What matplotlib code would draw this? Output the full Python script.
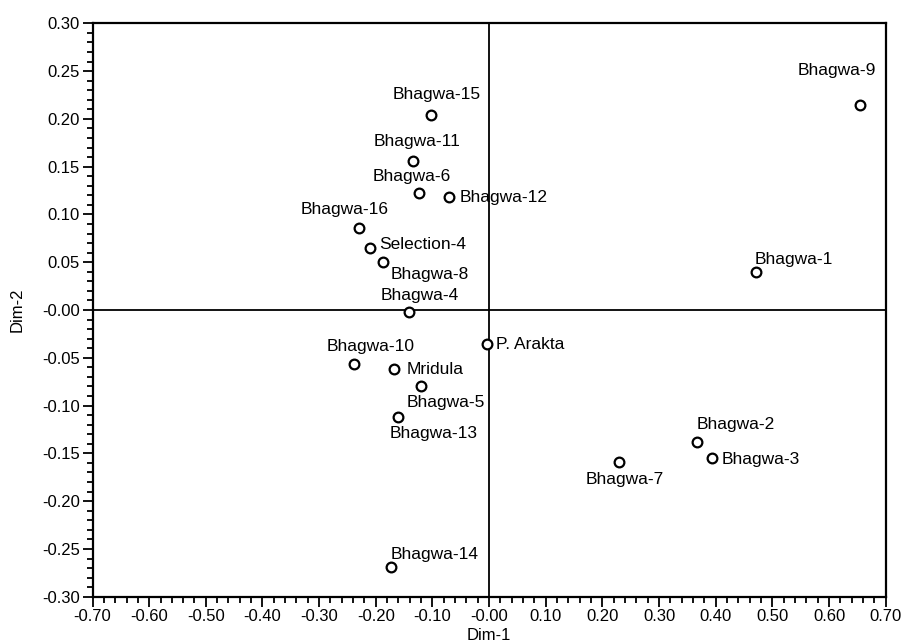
import matplotlib
matplotlib.use('Agg')
import matplotlib.pyplot as plt
from matplotlib.ticker import MultipleLocator, FuncFormatter

# Coordenadas de los genotipos (Dim-1, Dim-2)
names = ['Bhagwa-9', 'Bhagwa-1', 'Bhagwa-15', 'Bhagwa-11', 'Bhagwa-6', 'Bhagwa-12',
         'Bhagwa-16', 'Selection-4', 'Bhagwa-8', 'Bhagwa-4', 'P. Arakta', 'Bhagwa-10',
         'Mridula', 'Bhagwa-5', 'Bhagwa-13', 'Bhagwa-2', 'Bhagwa-3', 'Bhagwa-7', 'Bhagwa-14']
dim1 = [0.654, 0.471, -0.103, -0.135, -0.124, -0.070, -0.230, -0.210, -0.188, -0.142,
        -0.003, -0.239, -0.167, -0.121, -0.160, 0.367, 0.393, 0.229, -0.173]
dim2 = [0.214, 0.040, 0.204, 0.156, 0.122, 0.118, 0.086, 0.065, 0.050, -0.002,
        -0.036, -0.057, -0.062, -0.079, -0.112, -0.138, -0.155, -0.159, -0.269]

# Posicion de cada etiqueta respecto a su punto (pixeles, alineacion horizontal)
label_pos = {
    'Bhagwa-9': (-23, 35, 'center'), 'Bhagwa-1': (-1, 12, 'left'),
    'Bhagwa-15': (6, 21, 'center'), 'Bhagwa-11': (4, 19, 'center'),
    'Bhagwa-6': (-7, 17, 'center'), 'Bhagwa-12': (10, 0, 'left'),
    'Bhagwa-16': (-14, 18, 'center'), 'Selection-4': (9, 3, 'left'),
    'Bhagwa-8': (8, -12, 'left'), 'Bhagwa-4': (11, 16, 'center'),
    'P. Arakta': (9, 0, 'left'), 'Bhagwa-10': (17, 18, 'center'),
    'Mridula': (12, 0, 'left'), 'Bhagwa-5': (-14, -17, 'left'),
    'Bhagwa-13': (-9, -16, 'left'), 'Bhagwa-2': (39, 17, 'center'),
    'Bhagwa-3': (10, -1, 'left'), 'Bhagwa-7': (6, -18, 'center'),
    'Bhagwa-14': (0, 13, 'left'),
}

plt.rcParams['font.family'] = ['Liberation Sans', 'DejaVu Sans']

fig = plt.figure(figsize = (9.07, 6.42), dpi = 100)
ax = fig.add_axes([0.102, 0.0705, 0.8745, 0.8932])

ax.axhline(0, color = 'black', lw = 1.3, zorder = 1)
ax.axvline(0, color = 'black', lw = 1.3, zorder = 1)

ax.plot(dim1, dim2, 'o', markersize = 7, markerfacecolor = 'white',
        markeredgecolor = 'black', markeredgewidth = 1.6, zorder = 3)

for name, x, y in zip(names, dim1, dim2):
    dx, dy, ha = label_pos[name]
    ax.annotate(name, (x, y), xytext = (dx, dy), textcoords = 'offset pixels',
                ha = ha, va = 'center', fontsize = 12.5, color = 'black', zorder = 4)

ax.set_xlim(-0.70, 0.70)
ax.set_ylim(-0.30, 0.30)
ax.xaxis.set_major_locator(MultipleLocator(0.10))
ax.xaxis.set_minor_locator(MultipleLocator(0.02))
ax.yaxis.set_major_locator(MultipleLocator(0.05))
ax.yaxis.set_minor_locator(MultipleLocator(0.01))

def fmt(v, pos):
    if abs(v) < 1e-9:
        return '-0.00'
    return f'{v:.2f}'

ax.xaxis.set_major_formatter(FuncFormatter(fmt))
ax.yaxis.set_major_formatter(FuncFormatter(fmt))

ax.tick_params(which = 'major', direction = 'out', length = 7, width = 1.3, labelsize = 12, pad = 2)
ax.tick_params(which = 'minor', direction = 'out', length = 4, width = 1.3)
for s in ax.spines.values():
    s.set_linewidth(1.6)

ax.set_xlabel('Dim-1', fontsize = 12)
ax.set_ylabel('Dim-2', fontsize = 12)
ax.xaxis.set_label_coords(0.5, -0.055)
ax.yaxis.set_label_coords(-0.085, 0.5)

fig.savefig('out.png', dpi = 100)
